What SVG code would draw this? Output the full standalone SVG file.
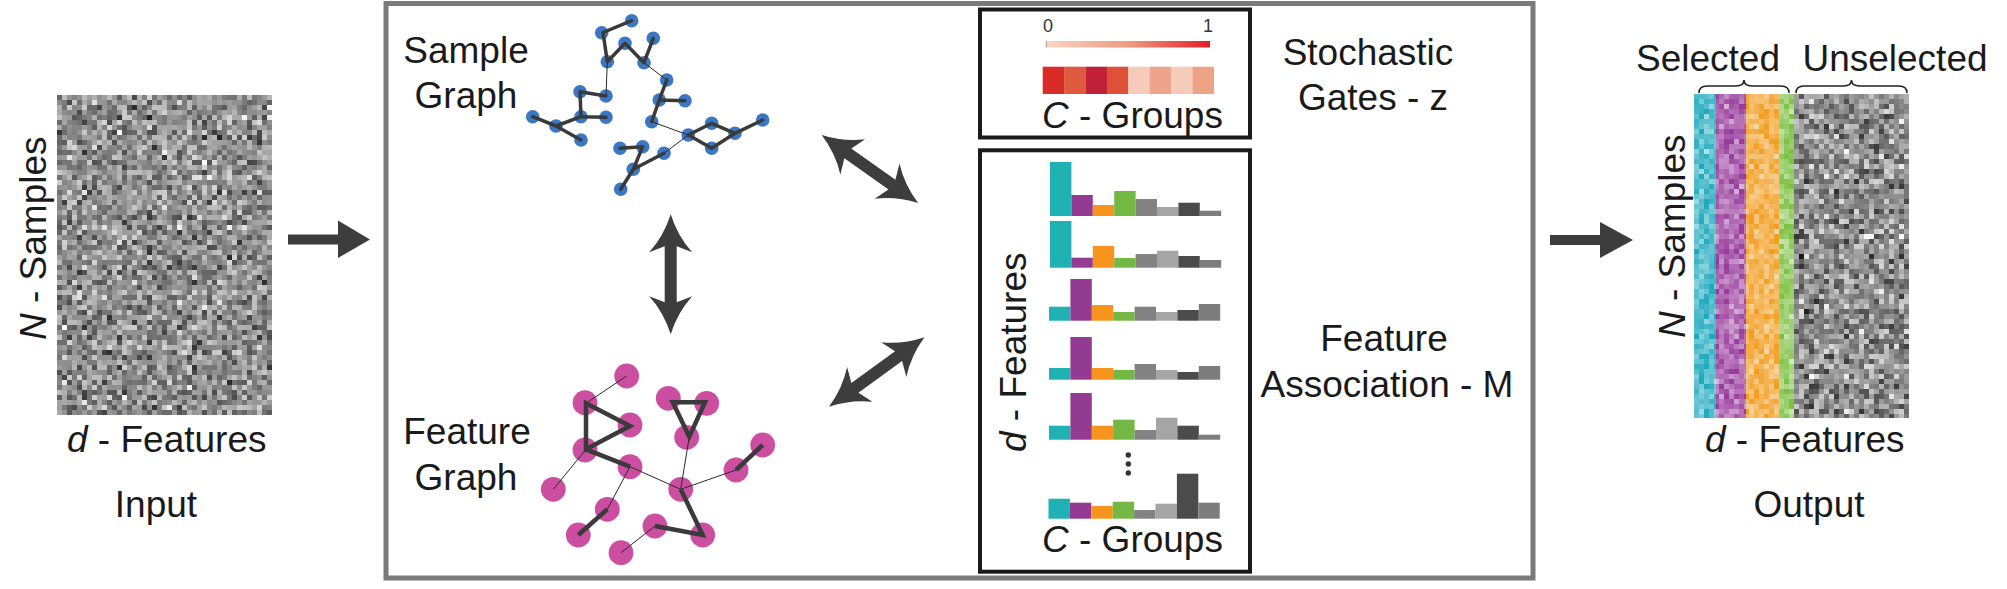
<svg xmlns="http://www.w3.org/2000/svg" width="2007" height="589" viewBox="0 0 2007 589">
<defs>
<style>
.t{font-family:"Liberation Sans",Arial,sans-serif;font-size:37px;fill:#1a1a1a}
.i{font-style:italic}
.sm{font-family:"Liberation Sans",Arial,sans-serif;font-size:18px;fill:#333}
.arr{fill:#3d3d3d}
.sn{fill:#3b77c2}
.fn{fill:#cb4ea1}
.tk{stroke:#3a3a3a;stroke-width:3.5;fill:none;stroke-linecap:round;stroke-linejoin:round}
.tkf{stroke:#3a3a3a;stroke-width:4.5;fill:none;stroke-linejoin:miter}
.tn{stroke:#2a2a2a;stroke-width:1;fill:none}
.bx{fill:none;stroke:#1a1a1a;stroke-width:4}
.br{fill:none;stroke:#222;stroke-width:1.6}
</style>
<linearGradient id="cbar" x1="0" x2="1" y1="0" y2="0">
<stop offset="0" stop-color="#f8d5c8"/>
<stop offset="0.5" stop-color="#ef9a80"/>
<stop offset="1" stop-color="#e31e26"/>
</linearGradient>
<filter id="noiseA" x="0" y="0" width="1" height="1" color-interpolation-filters="sRGB">
<feTurbulence type="fractalNoise" baseFrequency="0.2731" numOctaves="2" seed="7" result="t"/>
<feColorMatrix in="t" type="matrix" values="1.3 0 0 0 -0.09 1.3 0 0 0 -0.09 1.3 0 0 0 -0.09 0 0 0 0 1" result="g"/>
<feFlood x="2" y="2" width="1" height="1" flood-color="#000" flood-opacity="1" result="dot"/>
<feComposite in="dot" in2="dot" operator="over" x="0" y="0" width="5" height="5" result="cell"/>
<feTile in="cell" result="dots"/>
<feComposite in="g" in2="dots" operator="in" result="samp"/>
<feMorphology in="samp" operator="dilate" radius="2"/>
</filter>
<filter id="noiseB" x="0" y="0" width="1" height="1" color-interpolation-filters="sRGB">
<feTurbulence type="fractalNoise" baseFrequency="0.2913" numOctaves="2" seed="23" result="t"/>
<feColorMatrix in="t" type="matrix" values="1.3 0 0 0 -0.09 1.3 0 0 0 -0.09 1.3 0 0 0 -0.09 0 0 0 0 1" result="g"/>
<feFlood x="2" y="2" width="1" height="1" flood-color="#000" flood-opacity="1" result="dot"/>
<feComposite in="dot" in2="dot" operator="over" x="0" y="0" width="5" height="5" result="cell"/>
<feTile in="cell" result="dots"/>
<feComposite in="g" in2="dots" operator="in" result="samp"/>
<feMorphology in="samp" operator="dilate" radius="2"/>
</filter>
<filter id="noiseW" x="0" y="0" width="1" height="1" color-interpolation-filters="sRGB">
<feTurbulence type="fractalNoise" baseFrequency="0.2817" numOctaves="2" seed="41" result="t"/>
<feColorMatrix in="t" type="matrix" values="0 0 0 0 1 0 0 0 0 1 0 0 0 0 1 1.2 0 0 0 -0.35" result="g"/>
<feFlood x="2" y="2" width="1" height="1" flood-color="#000" flood-opacity="1" result="dot"/>
<feComposite in="dot" in2="dot" operator="over" x="0" y="0" width="5" height="5" result="cell"/>
<feTile in="cell" result="dots"/>
<feComposite in="g" in2="dots" operator="in" result="samp"/>
<feMorphology in="samp" operator="dilate" radius="2"/>
</filter>
</defs>
<rect width="2007" height="589" fill="#fff"/>

<g id="input">
<g transform="translate(57,95)"><rect x="0" y="0" width="216" height="322" fill="#909090" filter="url(#noiseA)"/></g>
<text class="t" transform="translate(46,340) rotate(-90)"><tspan class="i">N</tspan> - Samples</text>
<text class="t" x="67" y="452"><tspan class="i">d</tspan> - Features</text>
<text class="t" x="156" y="517" text-anchor="middle">Input</text>
</g>

<g id="model">
<rect x="386" y="3.5" width="1147" height="574.5" fill="none" stroke="#7a7a7a" stroke-width="5"/>
</g>

<g id="sample-graph">
<text class="t" x="466" y="63" text-anchor="middle">Sample</text>
<text class="t" x="466" y="108" text-anchor="middle">Graph</text>
<g>
<circle class="sn" cx="631.7" cy="20.7" r="6.8"/>
<circle class="sn" cx="601.7" cy="32.7" r="6.8"/>
<circle class="sn" cx="625" cy="43.3" r="6.8"/>
<circle class="sn" cx="653.3" cy="38.3" r="6.8"/>
<circle class="sn" cx="607.3" cy="61.7" r="6.8"/>
<circle class="sn" cx="644" cy="62.7" r="6.8"/>
<circle class="sn" cx="666.7" cy="80" r="6.8"/>
<circle class="sn" cx="580" cy="91.7" r="6.8"/>
<circle class="sn" cx="606" cy="96" r="6.8"/>
<circle class="sn" cx="659.3" cy="100" r="6.8"/>
<circle class="sn" cx="685" cy="100.7" r="6.8"/>
<circle class="sn" cx="532.7" cy="116.7" r="6.8"/>
<circle class="sn" cx="581" cy="116.7" r="6.8"/>
<circle class="sn" cx="606" cy="117.3" r="6.8"/>
<circle class="sn" cx="651.7" cy="121.7" r="6.8"/>
<circle class="sn" cx="711.7" cy="123.3" r="6.8"/>
<circle class="sn" cx="762.7" cy="120" r="6.8"/>
<circle class="sn" cx="556" cy="126" r="6.8"/>
<circle class="sn" cx="688.3" cy="135" r="6.8"/>
<circle class="sn" cx="735" cy="133.3" r="6.8"/>
<circle class="sn" cx="581" cy="140" r="6.8"/>
<circle class="sn" cx="711.7" cy="148.3" r="6.8"/>
<circle class="sn" cx="620" cy="148.3" r="6.8"/>
<circle class="sn" cx="642.7" cy="146.7" r="6.8"/>
<circle class="sn" cx="664" cy="153.3" r="6.8"/>
<circle class="sn" cx="633.3" cy="169.3" r="6.8"/>
<circle class="sn" cx="620.7" cy="189.3" r="6.8"/>
</g>
<g>
<path class="tn" d="M607.3,61.7 L606,96 M644,62.7 L666.7,80 M651.7,121.7 L688.3,135 M688.3,135 L664,153.3"/>
<path class="tk" d="M631.7,20.7 L603,32.5 L607.3,61.7 L625,43.3 L644,62.7 L653.3,38.3"/>
<path class="tk" d="M666.7,80 L659.3,100 L651.7,121.7 M659.3,100 L685,100.7"/>
<path class="tk" d="M606,96 L580,91.7 L581,116.7 L606,117.3 M581,116.7 L556,126 M532.7,116.7 L556,126 L581,140"/>
<path class="tk" d="M688.3,135 L711.7,123.3 L735,133.3 L711.7,148.3 Z M735,133.3 L762.7,120"/>
<path class="tk" d="M620,148.3 L642.7,146.7 L633.3,169.3 L620.7,189.3 M633.3,169.3 L664,153.3"/>
</g>
</g>

<g id="feature-graph">
<text class="t" x="467" y="444" text-anchor="middle">Feature</text>
<text class="t" x="466" y="490" text-anchor="middle">Graph</text>
<g>
<circle class="fn" cx="626.7" cy="376" r="12.4"/>
<circle class="fn" cx="585" cy="402.7" r="12.4"/>
<circle class="fn" cx="668.3" cy="398.3" r="12.4"/>
<circle class="fn" cx="706.7" cy="403.3" r="12.4"/>
<circle class="fn" cx="630" cy="425" r="12.4"/>
<circle class="fn" cx="686.7" cy="437.3" r="12.4"/>
<circle class="fn" cx="585" cy="450" r="12.4"/>
<circle class="fn" cx="762.7" cy="445" r="12.4"/>
<circle class="fn" cx="630" cy="466.7" r="12.4"/>
<circle class="fn" cx="736" cy="470" r="12.4"/>
<circle class="fn" cx="553.3" cy="489.3" r="12.4"/>
<circle class="fn" cx="680.7" cy="489.3" r="12.4"/>
<circle class="fn" cx="607.3" cy="509.3" r="12.4"/>
<circle class="fn" cx="655" cy="526" r="12.4"/>
<circle class="fn" cx="702.7" cy="535" r="12.4"/>
<circle class="fn" cx="578.3" cy="535" r="12.4"/>
<circle class="fn" cx="621" cy="552.7" r="12.4"/>
</g>
<g>
<path class="tn" d="M626.7,376 L586,403.3 M586,449.3 L553.3,489.3 M630,466.7 L680.7,489.3 M630,466.7 L607.3,509.3 M689.3,436.7 L680.7,489.3 M680.7,489.3 L736,470 M655,526 L621,552.7"/>
<path class="tkf" d="M586,403.3 L630,426 L586,449.3 Z"/>
<path class="tkf" d="M672.7,402.3 L705,402.3 L689.3,436.7 Z"/>
<path class="tkf" d="M586,449.3 L630,466.7 M607.3,509.3 L578.3,535 M736,470 L762.7,445 M680.7,489.3 L702.7,535 L655,526"/>
</g>
</g>

<g id="stochastic-gates">
<rect class="bx" x="980" y="9.5" width="270" height="128"/>
<text class="sm" x="1048" y="31.5" text-anchor="middle">0</text>
<text class="sm" x="1208" y="31.5" text-anchor="middle">1</text>
<rect x="1046" y="41" width="164" height="6.5" fill="url(#cbar)"/>
<line x1="1046.3" y1="41" x2="1046.3" y2="47.5" stroke="#888" stroke-width="0.8"/>
<rect x="1042.7" y="66.7" width="21.5" height="27.3" fill="#d92c26"/>
<rect x="1064.1" y="66.7" width="21.5" height="27.3" fill="#de5a3f"/>
<rect x="1085.5" y="66.7" width="21.5" height="27.3" fill="#c21f39"/>
<rect x="1106.9" y="66.7" width="21.5" height="27.3" fill="#dc5137"/>
<rect x="1128.3" y="66.7" width="21.5" height="27.3" fill="#f6cbb9"/>
<rect x="1149.7" y="66.7" width="21.5" height="27.3" fill="#eea48a"/>
<rect x="1171.1" y="66.7" width="21.5" height="27.3" fill="#f5cbb9"/>
<rect x="1192.5" y="66.7" width="21.5" height="27.3" fill="#eea387"/>
<text class="t" x="1042" y="128"><tspan class="i">C</tspan> - Groups</text>
<text class="t" x="1368" y="65" text-anchor="middle">Stochastic</text>
<text class="t" x="1373" y="110" text-anchor="middle">Gates - z</text>
</g>

<g id="feature-association">
<rect class="bx" x="980" y="150.3" width="270" height="421.4"/>
<g transform="translate(1050,216)">
<rect x="0" y="-54" width="21.4" height="54" fill="#1fb1b3"/>
<rect x="21.4" y="-21" width="21.4" height="21" fill="#933a92"/>
<rect x="42.8" y="-11" width="21.4" height="11" fill="#f7941d"/>
<rect x="64.2" y="-25" width="21.4" height="25" fill="#72b843"/>
<rect x="85.6" y="-17" width="21.4" height="17" fill="#828282"/>
<rect x="107" y="-9" width="21.4" height="9" fill="#a5a5a5"/>
<rect x="128.4" y="-13.3" width="21.4" height="13.3" fill="#4b4b4b"/>
<rect x="149.8" y="-5.3" width="21.4" height="5.3" fill="#7d7d7d"/>
</g>
<g transform="translate(1050,267.7)">
<rect x="0" y="-46.7" width="21.4" height="46.7" fill="#1fb1b3"/>
<rect x="21.4" y="-10" width="21.4" height="10" fill="#933a92"/>
<rect x="42.8" y="-21.7" width="21.4" height="21.7" fill="#f7941d"/>
<rect x="64.2" y="-9.7" width="21.4" height="9.7" fill="#72b843"/>
<rect x="85.6" y="-13.7" width="21.4" height="13.7" fill="#828282"/>
<rect x="107" y="-17" width="21.4" height="17" fill="#a5a5a5"/>
<rect x="128.4" y="-11.7" width="21.4" height="11.7" fill="#4b4b4b"/>
<rect x="149.8" y="-7.7" width="21.4" height="7.7" fill="#7d7d7d"/>
</g>
<g transform="translate(1049,320.7)">
<rect x="0" y="-14" width="21.4" height="14" fill="#1fb1b3"/>
<rect x="21.4" y="-41.7" width="21.4" height="41.7" fill="#933a92"/>
<rect x="42.8" y="-15.7" width="21.4" height="15.7" fill="#f7941d"/>
<rect x="64.2" y="-8.7" width="21.4" height="8.7" fill="#72b843"/>
<rect x="85.6" y="-14" width="21.4" height="14" fill="#828282"/>
<rect x="107" y="-8.7" width="21.4" height="8.7" fill="#a5a5a5"/>
<rect x="128.4" y="-10.7" width="21.4" height="10.7" fill="#4b4b4b"/>
<rect x="149.8" y="-16.7" width="21.4" height="16.7" fill="#7d7d7d"/>
</g>
<g transform="translate(1049,379.7)">
<rect x="0" y="-11.7" width="21.4" height="11.7" fill="#1fb1b3"/>
<rect x="21.4" y="-42.7" width="21.4" height="42.7" fill="#933a92"/>
<rect x="42.8" y="-11.7" width="21.4" height="11.7" fill="#f7941d"/>
<rect x="64.2" y="-9.7" width="21.4" height="9.7" fill="#72b843"/>
<rect x="85.6" y="-15.7" width="21.4" height="15.7" fill="#828282"/>
<rect x="107" y="-9.7" width="21.4" height="9.7" fill="#a5a5a5"/>
<rect x="128.4" y="-7.7" width="21.4" height="7.7" fill="#4b4b4b"/>
<rect x="149.8" y="-13.7" width="21.4" height="13.7" fill="#7d7d7d"/>
</g>
<g transform="translate(1049,439.7)">
<rect x="0" y="-14" width="21.4" height="14" fill="#1fb1b3"/>
<rect x="21.4" y="-46.7" width="21.4" height="46.7" fill="#933a92"/>
<rect x="42.8" y="-14" width="21.4" height="14" fill="#f7941d"/>
<rect x="64.2" y="-20" width="21.4" height="20" fill="#72b843"/>
<rect x="85.6" y="-9.7" width="21.4" height="9.7" fill="#828282"/>
<rect x="107" y="-22" width="21.4" height="22" fill="#a5a5a5"/>
<rect x="128.4" y="-14" width="21.4" height="14" fill="#4b4b4b"/>
<rect x="149.8" y="-5" width="21.4" height="5" fill="#7d7d7d"/>
</g>
<circle cx="1128.3" cy="455" r="2.7" fill="#333"/>
<circle cx="1128.3" cy="464" r="2.7" fill="#333"/>
<circle cx="1128.3" cy="473" r="2.7" fill="#333"/>
<g transform="translate(1048.5,518.7)">
<rect x="0" y="-20" width="21.4" height="20" fill="#1fb1b3"/>
<rect x="21.4" y="-16" width="21.4" height="16" fill="#933a92"/>
<rect x="42.8" y="-12.7" width="21.4" height="12.7" fill="#f7941d"/>
<rect x="64.2" y="-17" width="21.4" height="17" fill="#72b843"/>
<rect x="85.6" y="-8.7" width="21.4" height="8.7" fill="#828282"/>
<rect x="107" y="-15" width="21.4" height="15" fill="#a5a5a5"/>
<rect x="128.4" y="-45" width="21.4" height="45" fill="#4b4b4b"/>
<rect x="149.8" y="-16" width="21.4" height="16" fill="#7d7d7d"/>
</g>
<text class="t" transform="translate(1026,452) rotate(-90)"><tspan class="i">d</tspan> - Features</text>
<text class="t" x="1042" y="551.7"><tspan class="i">C</tspan> - Groups</text>
<text class="t" x="1384" y="350.7" text-anchor="middle">Feature</text>
<text class="t" x="1387" y="396.7" text-anchor="middle">Association - M</text>
</g>

<g id="output">
<g transform="translate(1694,94)">
<rect x="0" y="0" width="22" height="324" fill="#1ea9bd"/>
<rect x="22" y="0" width="30" height="324" fill="#983c9c"/>
<rect x="52" y="0" width="34" height="324" fill="#f29e22"/>
<rect x="86" y="0" width="14" height="324" fill="#7cc142"/>
<rect x="0" y="0" width="100" height="324" fill="#fff" filter="url(#noiseW)"/>
</g>
<g transform="translate(1794,94)"><rect x="0" y="0" width="116" height="324" fill="#909090" filter="url(#noiseB)"/></g>
<path class="br" d="M1699,93 Q1699,86 1707,86 L1736,86 Q1744,86 1744,80 Q1744,86 1752,86 L1781,86 Q1789,86 1789,93"/>
<path class="br" d="M1796,93 Q1796,86 1804,86 L1843.5,86 Q1851.5,86 1851.5,80 Q1851.5,86 1859.5,86 L1899,86 Q1907,86 1907,93"/>
<text class="t" x="1708" y="70.7" text-anchor="middle">Selected</text>
<text class="t" x="1895" y="70.7" text-anchor="middle">Unselected</text>
<text class="t" transform="translate(1685,338) rotate(-90)"><tspan class="i">N</tspan> - Samples</text>
<text class="t" x="1705" y="452"><tspan class="i">d</tspan> - Features</text>
<text class="t" x="1809" y="517" text-anchor="middle">Output</text>
</g>

<g id="connectors">
<path class="arr" d="M288,234.5 L338,234.5 L338,220.5 L370,239.5 L338,258 L338,244.5 L288,244.5 Z"/>
<path class="arr" d="M1550,235 L1600,235 L1600,222 L1633,240 L1600,258 L1600,245 L1550,245 Z"/>
<path class="arr" transform="translate(670.7,214.3) rotate(90)" d="M0,0 Q22,-7 38,-21.5 L32,-6 L88,-6 L82,-21.5 Q98,-7 120,0 Q98,7 82,21.5 L88,6 L32,6 L38,21.5 Q22,7 0,0 Z"/>
<path class="arr" transform="translate(821.7,135) rotate(35.2)" d="M0,0 Q22,-7 38,-21.5 L32,-6 L86,-6 L80,-21.5 Q96,-7 118,0 Q96,7 80,21.5 L86,6 L32,6 L38,21.5 Q22,7 0,0 Z"/>
<path class="arr" transform="translate(829,406.7) rotate(-36)" d="M0,0 Q22,-7 38,-21.5 L32,-6 L86,-6 L80,-21.5 Q96,-7 118,0 Q96,7 80,21.5 L86,6 L32,6 L38,21.5 Q22,7 0,0 Z"/>
</g>
</svg>
